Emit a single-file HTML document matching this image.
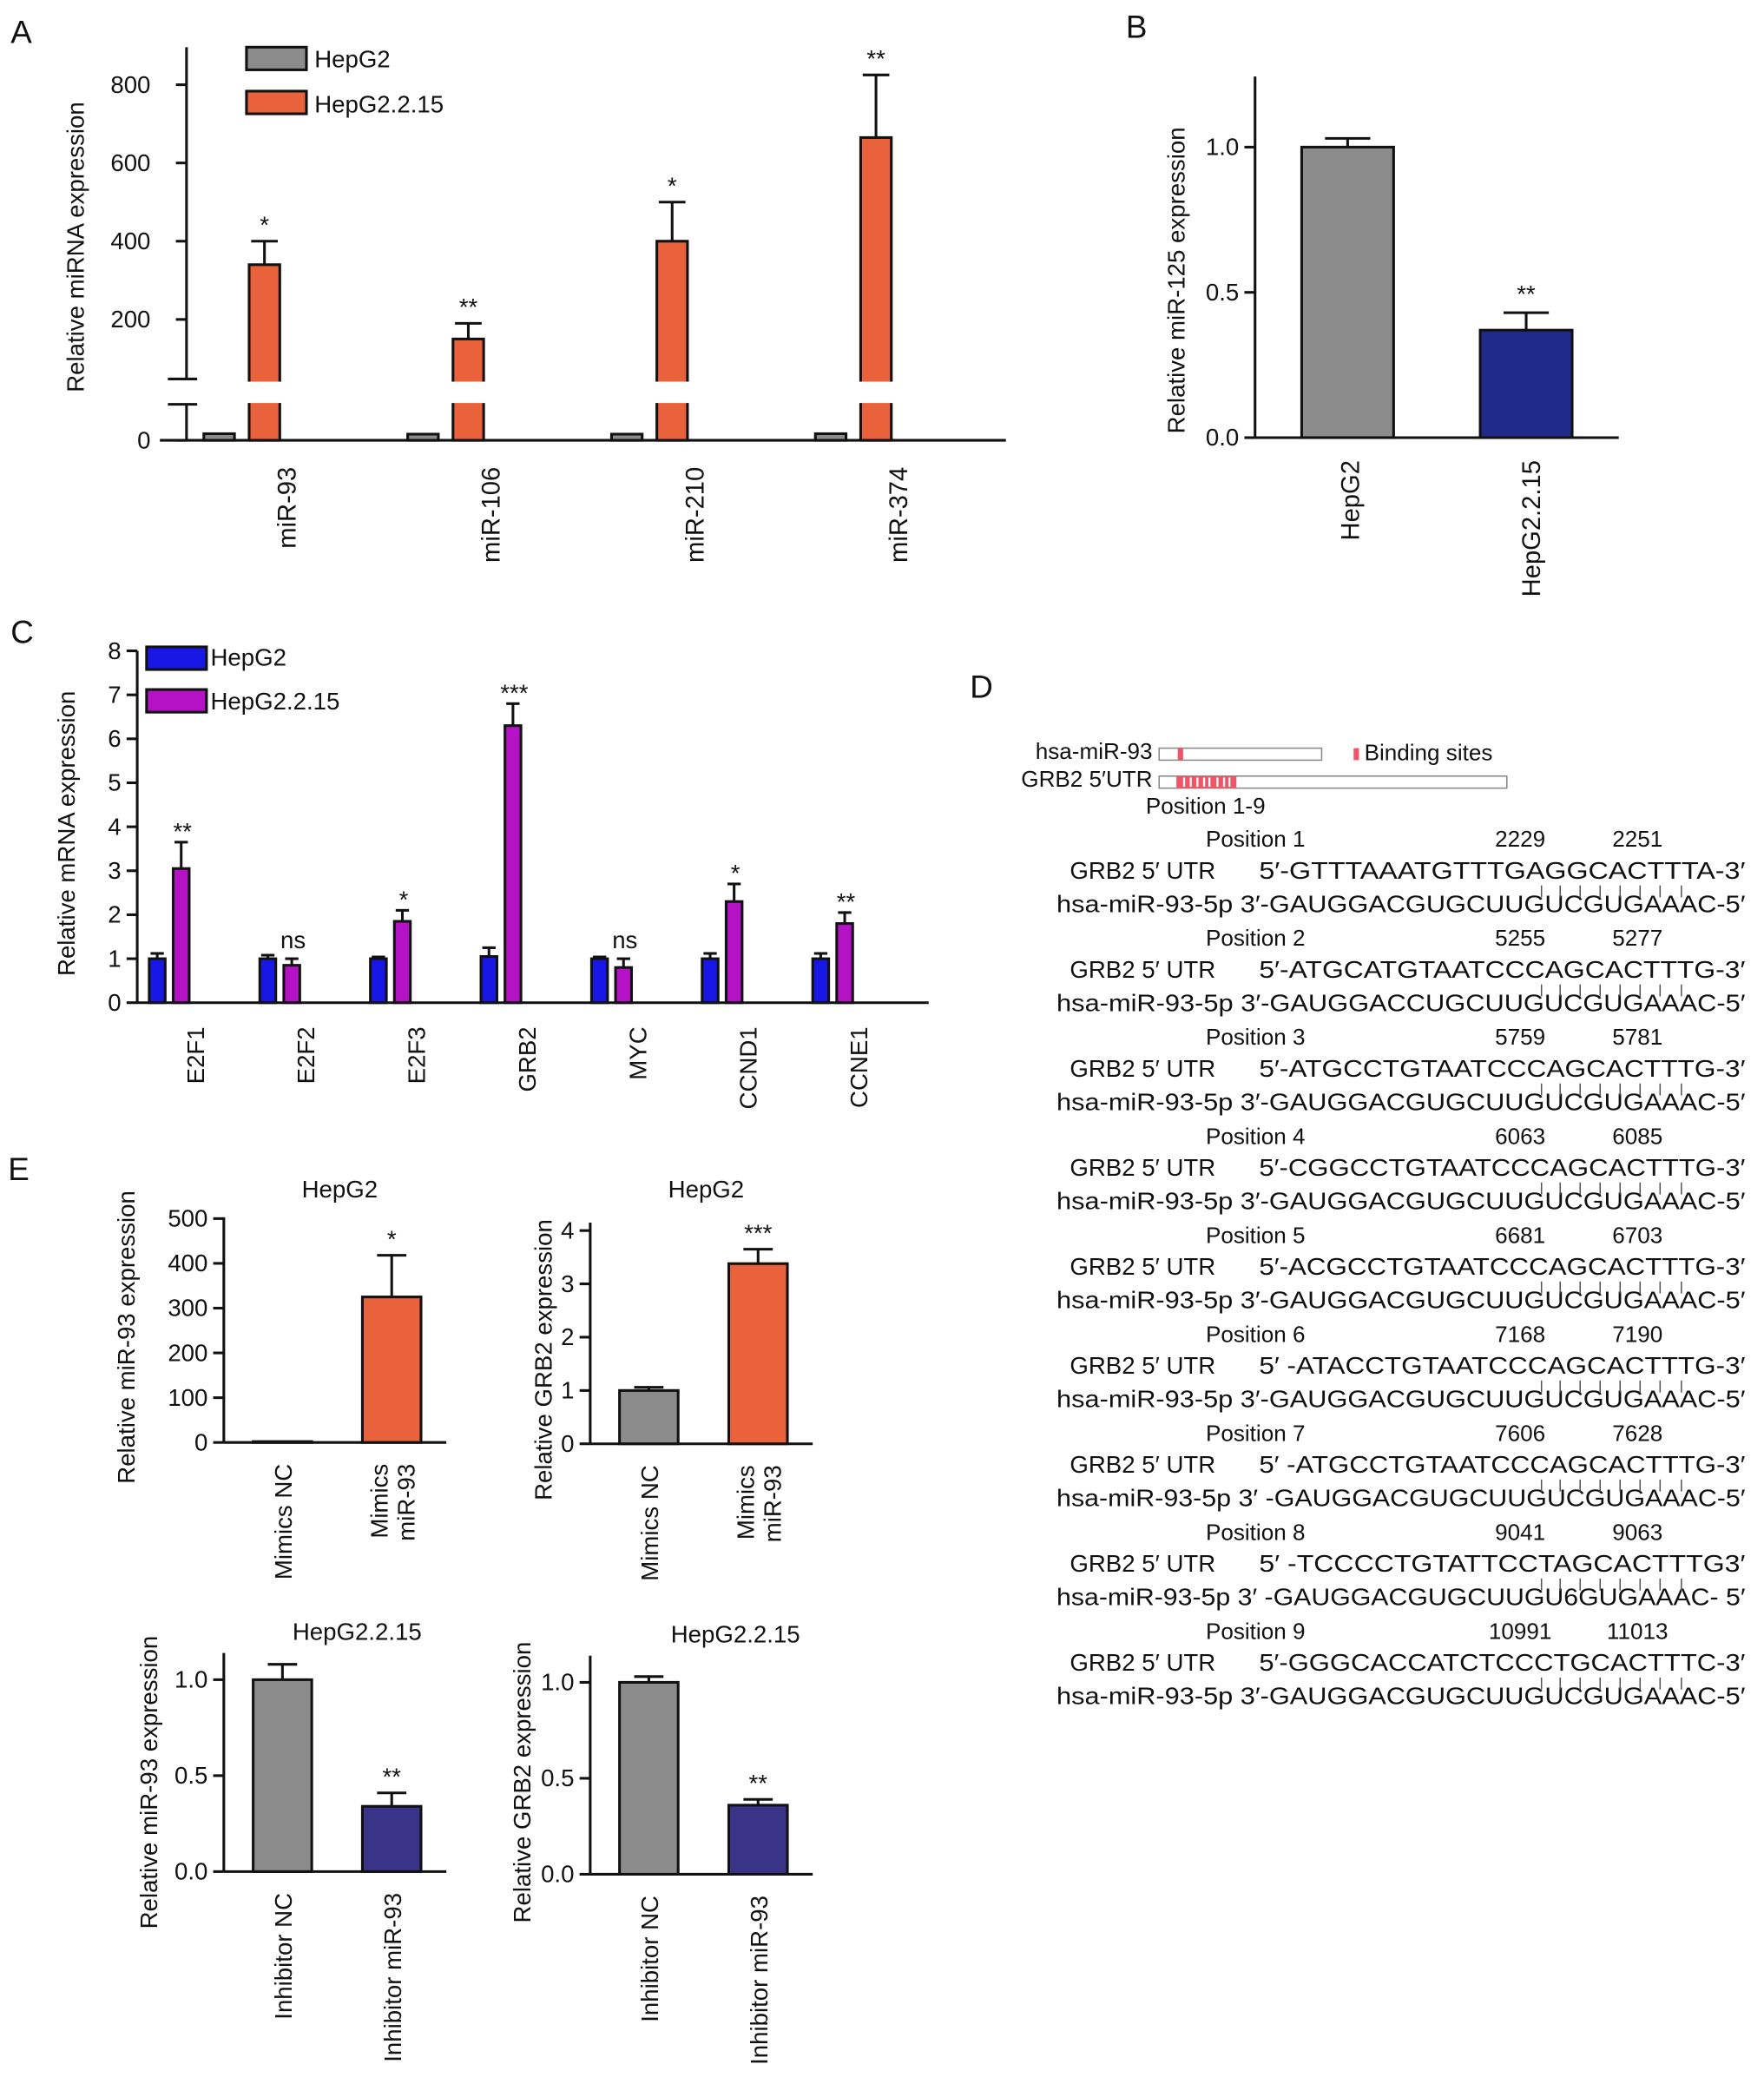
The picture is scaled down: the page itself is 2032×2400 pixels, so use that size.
<!DOCTYPE html>
<html><head><meta charset="utf-8"><style>
html,body{margin:0;padding:0;background:#fff}
svg{display:block;font-family:"Liberation Sans",Arial,sans-serif;fill:#111}
text{fill:#111}
</style></head><body>
<svg id="fig" xmlns="http://www.w3.org/2000/svg" width="2032" height="2400" viewBox="0 0 1324 1563"></svg>
<script>
// ---------- DATA ----------
const aCategories=["miR-93","miR-106","miR-210","miR-374"];
const aHepG2=[15,14,14,15];
const aHepG215=[340,150,400,665];
const aHepG215Err=[400,190,500,825];
const aTicks=[200,400,600,800];

const bCategories=["HepG2","HepG2.2.15"];
const bValues=[1.0,0.37];
const bErr=[1.03,0.43];
const bTicks=[0,0.5,1.0];

const cCategories=["E2F1","E2F2","E2F3","GRB2","MYC","CCND1","CCNE1"];
const cHepG2=[1.0,1.0,1.0,1.05,1.0,1.0,1.0];
const cHepG2Err=[1.12,1.08,1.04,1.25,1.04,1.12,1.12];
const cHepG215=[3.05,0.85,1.85,6.3,0.8,2.3,1.8];
const cHepG215Err=[3.65,1.0,2.1,6.8,1.0,2.7,2.05];
const cSig=["**","ns","*","***","ns","*","**"];
const cTicks=[0,1,2,3,4,5,6,7,8];

const e1Values=[2,325];const e1Err=[2,418];const e1Ticks=[0,100,200,300,400,500];
const e2Values=[1.0,3.38];const e2Err=[1.06,3.65];const e2Ticks=[0,1,2,3,4];
const e3Values=[1.0,0.34];const e3Err=[1.08,0.41];const e3Ticks=[0,0.5,1.0];
const e4Values=[1.0,0.36];const e4Err=[1.03,0.39];const e4Ticks=[0,0.5,1.0];

// ---------- HELPERS ----------
const NS="http://www.w3.org/2000/svg";
const svg=document.getElementById('fig');
function mk(tag,attrs,parent){const e=document.createElementNS(NS,tag);for(const k in attrs)e.setAttribute(k,attrs[k]);(parent||svg).appendChild(e);return e;}
function txt(s,x,y,size,opts,name){
  const e=mk('text',Object.assign({x:x,y:y,'font-size':size},opts||{}));
  e.textContent=s;
  
  
  return e;}
function line(x1,y1,x2,y2,w,name,col){
  const e=mk('line',{x1:x1,y1:y1,x2:x2,y2:y2,stroke:col||'#111','stroke-width':w||2});
  
  
  return e;}
function rect(x,y,w,h,fill,name,sw){
  const e=mk('rect',{x:x,y:y,width:w,height:h,fill:fill,stroke:'#111','stroke-width':sw===undefined?2:sw});
  
  
  return e;}
function rotText(s,x,y,size,anchor,name){
  const e=mk('text',{x:0,y:0,'font-size':size,'text-anchor':anchor,transform:`translate(${x},${y}) rotate(-90)`});
  e.textContent=s;
  
  
  return e;}
function errBar(cx,yTop,yErr,cap,name){
  line(cx,yTop,cx,yErr,2,name+'-error');
  line(cx-cap,yErr,cx+cap,yErr,2,name+'-error-cap');}
function yAxis(x,y1,y2,ticks,yf,fmt,name,size){
  line(x,y1,x,y2,2,name+'-axis-line');
  ticks.forEach(t=>{const y=yf(t);line(x-8,y,x,y,2,name+'-tick');
    txt(fmt(t),x-12,y+6,size||18,{'text-anchor':'end'},name+'-tick-label');});}

// ---------- PANEL A ----------
txt('A',8,32,24,{},'panel-a-label');
const yUp=v=>298-v*0.2935, yLow=v=>330-v*0.33;
line(140,35,140,284,2,'a-y-axis-upper');
line(126,284,148,284,2,'a-axis-break-top');
line(126,303,148,303,2,'a-axis-break-bottom');
line(140,303,140,330,2,'a-y-axis-lower');
aTicks.forEach(t=>{const y=yUp(t);line(132,y,140,y,2,'a-tick');txt(String(t),113,y+6,18,{'text-anchor':'end'},'a-tick-label');});
line(132,330,140,330,2,'a-tick');txt('0',113,336,18,{'text-anchor':'end'},'a-tick-label');
line(120,330,755,330,2,'a-x-axis');
rotText('Relative miRNA expression',63,185,18,'middle','a-y-axis-title');
aCategories.forEach((c,i)=>{
  const g=153*i;
  const gy=yLow(aHepG2[i]);
  rect(153+g,gy,23,330-gy,'#8c8c8c','a-bar-hepg2-'+c);
  const oy=yUp(aHepG215[i]);
  rect(187+g,oy,23,330-oy,'#e9623c','a-bar-hepg2215-'+c);
  mk('rect',{x:184+g,y:286,width:29,height:16,fill:'#fff'});
  errBar(198.5+g,oy,yUp(aHepG215Err[i]),10,'a-'+c);
  const st=['*','**','*','**'][i];
  txt(st,198.5+g,yUp(aHepG215Err[i])-6,18,{'text-anchor':'middle'},'a-significance');
  rotText(c,222+g,350,19,'end','a-x-label');
});
rect(185,35,45,17,'#8c8c8c','a-legend-swatch-hepg2');
txt('HepG2',236,50,18,{},'a-legend-hepg2');
rect(185,68,45,17,'#e9623c','a-legend-swatch-hepg2215');
txt('HepG2.2.15',236,84,18,{},'a-legend-hepg2215');

// ---------- PANEL B ----------
txt('B',845,28,24,{},'panel-b-label');
const yB=v=>328-v*218;
yAxis(942,57,328,bTicks,yB,t=>t.toFixed(1),'b',18);
line(942,328,1215,328,2,'b-x-axis');
rotText('Relative miR-125 expression',889,210,18,'middle','b-y-axis-title');
const bCols=['#8c8c8c','#1f2a8a'];
bCategories.forEach((c,i)=>{
  const x=977+134*i, y=yB(bValues[i]);
  rect(x,y,69,328-y,bCols[i],'b-bar-'+c);
  errBar(x+34.5,y,yB(bErr[i]),17,'b-'+c);
  if(i===1)txt('**',x+34.5,yB(bErr[i])-8,18,{'text-anchor':'middle'},'b-significance');
  rotText(c,1020+136*i,345,19,'end','b-x-label');
});

// ---------- PANEL C ----------
txt('C',8,482,24,{},'panel-c-label');
const yC=v=>752-v*33;
yAxis(103,488,752,cTicks,yC,t=>String(t),'c',18);
line(103,752,697,752,2,'c-x-axis');
rotText('Relative mRNA expression',56,625,18,'middle','c-y-axis-title');
cCategories.forEach((c,i)=>{
  const g=83*i;
  const by=yC(cHepG2[i]);
  rect(112+g,by,12,752-by,'#1818e6','c-bar-hepg2-'+c);
  errBar(118+g,by,yC(cHepG2Err[i]),5,'c-hepg2-'+c);
  const my=yC(cHepG215[i]);
  rect(130+g,my,12,752-my,'#b512c6','c-bar-hepg2215-'+c);
  errBar(136+g,my,yC(cHepG215Err[i]),5,'c-hepg2215-'+c);
  txt(cSig[i],137+g,yC(cHepG215Err[i])-(cSig[i]==='ns'?4:-2)-4,cSig[i]==='ns'?18:18,{'text-anchor':'middle'},'c-significance');
  rotText(c,153+g,770,18,'end','c-x-label');
});
rect(110,485,45,17,'#1818e6','c-legend-swatch-hepg2');
txt('HepG2',158,499,18,{},'c-legend-hepg2');
rect(110,517,45,17,'#b512c6','c-legend-swatch-hepg2215');
txt('HepG2.2.15',158,532,18,{},'c-legend-hepg2215');

// ---------- PANEL D ----------
txt('D',728,523,24,{},'panel-d-label');
txt('hsa-miR-93',865,569,17,{'text-anchor':'end'},'d-mir-label');
const r1=mk('rect',{x:870,y:561,width:122,height:9,fill:'#fff',stroke:'#888','stroke-width':1});

mk('rect',{x:884,y:561,width:4,height:9,fill:'#ee5566'});
mk('rect',{x:1016,y:561,width:4,height:9,fill:'#ee5566'});
txt('Binding sites',1024,570,17,{},'d-legend-binding-sites');
txt('GRB2 5′UTR',865,590,17,{'text-anchor':'end'},'d-utr-label');
const r2=mk('rect',{x:870,y:582,width:261,height:9,fill:'#fff',stroke:'#888','stroke-width':1});

mk('rect',{x:883,y:582,width:45,height:9,fill:'#ee5566'});
[888,893,898,903,907,913,918,922].forEach(x=>mk('rect',{x:x,y:583,width:1.5,height:7,fill:'#fff'}));
txt('Position 1-9',860,610,17,{},'d-position-range');
const dPos=[["2229","2251","5′-GTTTAAATGTTTGAGGCACTTTA-3′","3′-GAUGGACGUGCUUGUCGUGAAAC-5′"],
["5255","5277","5′-ATGCATGTAATCCCAGCACTTTG-3′","3′-GAUGGACCUGCUUGUCGUGAAAC-5′"],
["5759","5781","5′-ATGCCTGTAATCCCAGCACTTTG-3′","3′-GAUGGACGUGCUUGUCGUGAAAC-5′"],
["6063","6085","5′-CGGCCTGTAATCCCAGCACTTTG-3′","3′-GAUGGACGUGCUUGUCGUGAAAC-5′"],
["6681","6703","5′-ACGCCTGTAATCCCAGCACTTTG-3′","3′-GAUGGACGUGCUUGUCGUGAAAC-5′"],
["7168","7190","5′ -ATACCTGTAATCCCAGCACTTTG-3′","3′-GAUGGACGUGCUUGUCGUGAAAC-5′"],
["7606","7628","5′ -ATGCCTGTAATCCCAGCACTTTG-3′","3′ -GAUGGACGUGCUUGUCGUGAAAC-5′"],
["9041","9063","5′ -TCCCCTGTATTCCTAGCACTTTG3′","3′ -GAUGGACGUGCUUGU6GUGAAAC- 5′"],
["10991","11013","5′-GGGCACCATCTCCCTGCACTTTC-3′","3′-GAUGGACGUGCUUGUCGUGAAAC-5′"]];
dPos.forEach((p,i)=>{
  const y=635+74.3*i;
  txt('Position '+(i+1),905,y,17,{},'d-position-title');
  txt(p[0],1141,y,17,{'text-anchor':'middle'},'d-position-start');
  txt(p[1],1229,y,17,{'text-anchor':'middle'},'d-position-end');
  txt('GRB2 5′ UTR',803,y+24,18,{},'d-utr-row-label');
  txt(p[2],945,y+24,18,{textLength:365,lengthAdjust:'spacingAndGlyphs'},'d-utr-sequence');
  txt('hsa-miR-93-5p '+p[3],793,y+49,18,{textLength:517,lengthAdjust:'spacingAndGlyphs'},'d-mir-sequence');
  [1157,1171,1186,1201,1216,1231,1246,1262].forEach(x=>line(x,y+29,x,y+38,1,'d-pair-mark','#555'));
});

// ---------- PANEL E ----------
txt('E',6,885,24,{},'panel-e-label');
function eChart(cfg){
  const yf=v=>cfg.y0-v*cfg.scale;
  yAxis(cfg.ax,cfg.ytop,cfg.y0,cfg.ticks,yf,cfg.fmt,cfg.name,18);
  line(cfg.ax,cfg.y0,cfg.ax+167,cfg.y0,2,cfg.name+'-x-axis');
  txt(cfg.title,cfg.titleX,cfg.titleY,18,{'text-anchor':'middle'},cfg.name+'-title');
  rotText(cfg.ytitle,cfg.ytx,cfg.yty,18,'middle',cfg.name+'-y-axis-title');
  cfg.values.forEach((v,i)=>{
    const x=cfg.ax+22+82*i, y=yf(v);
    rect(x,y,44,cfg.y0-y,cfg.cols[i],cfg.name+'-bar-'+i);
    if(cfg.err[i]>v+0.0001)errBar(x+22,y,yf(cfg.err[i]),11,cfg.name+'-'+i);
  });
  txt(cfg.sig,cfg.ax+126,yf(cfg.err[1])-6,18,{'text-anchor':'middle'},cfg.name+'-significance');
  cfg.labels.forEach((l,i)=>l.forEach((s,j)=>rotText(s,cfg.ax+51+82*i+(l.length>1?(j-0.5)*20:0),cfg.y0+16,18,'end',cfg.name+'-x-label')));
}
eChart({name:'e1',ax:168,ytop:913,y0:1082,scale:0.336,ticks:e1Ticks,fmt:t=>String(t),values:e1Values,err:e1Err,cols:['#8c8c8c','#e9623c'],sig:'*',title:'HepG2',titleX:255,titleY:898,ytitle:'Relative miR-93 expression',ytx:101,yty:1003,labels:[['Mimics NC'],['Mimics','miR-93']]});
eChart({name:'e2',ax:443,ytop:917,y0:1083,scale:40,ticks:e2Ticks,fmt:t=>String(t),values:e2Values,err:e2Err,cols:['#8c8c8c','#e9623c'],sig:'***',title:'HepG2',titleX:530,titleY:898,ytitle:'Relative GRB2 expression',ytx:414,yty:1020,labels:[['Mimics NC'],['Mimics','miR-93']]});
eChart({name:'e3',ax:168,ytop:1240,y0:1404,scale:144,ticks:e3Ticks,fmt:t=>t.toFixed(1),values:e3Values,err:e3Err,cols:['#8c8c8c','#3a3488'],sig:'**',title:'HepG2.2.15',titleX:268,titleY:1230,ytitle:'Relative miR-93 expression',ytx:118,yty:1337,labels:[['Inhibitor NC'],['Inhibitor miR-93']]});
eChart({name:'e4',ax:443,ytop:1242,y0:1406,scale:144,ticks:e4Ticks,fmt:t=>t.toFixed(1),values:e4Values,err:e4Err,cols:['#8c8c8c','#3a3488'],sig:'**',title:'HepG2.2.15',titleX:552,titleY:1232,ytitle:'Relative GRB2 expression',ytx:398,yty:1337,labels:[['Inhibitor NC'],['Inhibitor miR-93']]});
</script>
</body></html>
